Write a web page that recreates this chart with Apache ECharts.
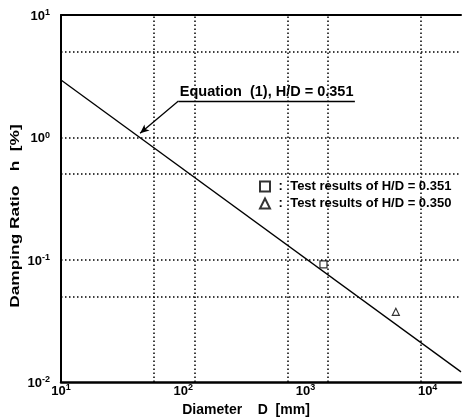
<!DOCTYPE html>
<html>
<head>
<meta charset="utf-8">
<script src="https://cdn.jsdelivr.net/npm/echarts@6.0.0/dist/echarts.min.js"></script>
<style>
  html, body { margin: 0; background: #fff; }
  #chart { width: 462px; height: 420px; }
</style>
</head>
<body>
<div id="chart"></div>
<script>
// equation (1) line, read at both ends of the plot
const lineD = [10, 10000];
const lineH = [2.94, 0.0121];
// test results
const squareD = [930];
const squareH = [0.0916];
const triD = [3245];
const triH = [0.0375];
// dotted grid positions
const gridD = [50, 100, 500, 1000, 5000];
const gridH = [5, 1, 0.5, 0.1, 0.05];
// annotation: underline and leader arrow (data coords)
const noteStart = [76, 1.98];
const noteEnd = [1600, 1.98];
const noteTip = [39.2, 1.08];
const noteText = 'Equation  (1), H/D = 0.351';
const seriesNames = ['Test results of H/D = 0.351', 'Test results of H/D = 0.350'];

const FONT = 'Liberation Sans';

function powLabel(v) {
  const e = Math.round(Math.log10(v));
  return '{b|10}{s|' + e + '}';
}

const powRich = {
  b: { fontSize: 13, lineHeight: 13, fontWeight: 'bold', padding: [3, 0, 0, 0], fontFamily: FONT, color: '#000' },
  s: { fontSize: 9, lineHeight: 9, fontWeight: 'bold', verticalAlign: 'top', fontFamily: FONT, color: '#000' }
};

function zip(a, b) {
  return a.map((v, i) => [v, b[i]]);
}

const chart = echarts.init(document.getElementById('chart'));

const gridMarks = gridD.map(v => ({ xAxis: v })).concat(gridH.map(v => ({ yAxis: v })));

chart.setOption({
  animation: false,
  backgroundColor: '#fff',
  textStyle: { fontFamily: FONT, color: '#000' },
  grid: { left: 61, right: 1, top: 15, bottom: 38, outerBoundsMode: 'none', containLabel: false },
  legend: {
    left: 259,
    top: 180,
    padding: 0,
    orient: 'vertical',
    itemWidth: 10,
    itemHeight: 10,
    itemGap: 4,
    formatter: name => ' :  ' + name,
    textStyle: { fontSize: 13, fontWeight: 'bold', color: '#000', fontFamily: FONT },
    data: seriesNames
  },
  xAxis: [
    {
      type: 'log',
      min: 10,
      max: 10000,
      position: 'bottom',
      axisLine: { lineStyle: { color: '#000', width: 2.5 } },
      axisTick: { show: false },
      axisLabel: { show: false },
      splitLine: { show: false }
    },
    {
      // label axis as printed in the figure
      type: 'log',
      min: 10,
      max: 18750,
      position: 'bottom',
      axisLine: { show: false },
      axisTick: { show: false },
      axisLabel: { margin: 1, showMaxLabel: false, formatter: powLabel, rich: powRich },
      splitLine: { show: false }
    },
    {
      type: 'log',
      min: 10,
      max: 10000,
      position: 'top',
      axisLine: { lineStyle: { color: '#000', width: 2 } },
      axisTick: { show: false },
      axisLabel: { show: false },
      splitLine: { show: false }
    }
  ],
  yAxis: {
    type: 'log',
    min: 0.01,
    max: 10,
    axisLine: { lineStyle: { color: '#000', width: 2 } },
    axisTick: { show: false },
    axisLabel: { margin: 11, formatter: powLabel, rich: powRich },
    splitLine: { show: false }
  },
  graphic: [
    {
      type: 'text',
      x: 15,
      y: 216,
      rotation: Math.PI / 2,
      scaleX: 1.33,
      style: {
        text: 'Damping Ratio   h  [%]',
        font: 'bold 13px "Liberation Sans"',
        fill: '#000',
        align: 'center',
        verticalAlign: 'middle'
      }
    },
    {
      type: 'text',
      x: 246,
      y: 410,
      style: {
        text: 'Diameter    D  [mm]',
        font: 'bold 14px "Liberation Sans"',
        fill: '#000',
        align: 'center',
        verticalAlign: 'middle'
      }
    }
  ],
  series: [
    {
      type: 'line',
      xAxisIndex: 0,
      data: zip(lineD, lineH),
      showSymbol: false,
      lineStyle: { color: '#000', width: 1.3 },
      z: 3,
      markLine: {
        silent: true,
        symbol: ['none', 'none'],
        label: { show: false },
        lineStyle: { color: '#000', width: 1.5, type: [1.5, 2.5] },
        data: gridMarks.concat([
          [
            {
              coord: noteStart,
              lineStyle: { type: 'solid', width: 1.3 },
              label: {
                show: true,
                position: 'insideMiddleTop',
                distance: 2,
                formatter: noteText,
                fontSize: 14.5,
                fontWeight: 'bold',
                color: '#000',
                fontFamily: FONT
              }
            },
            { coord: noteEnd }
          ],
          [
            { coord: noteStart, lineStyle: { type: 'solid', width: 1.3 } },
            { coord: noteTip, symbol: 'arrow', symbolSize: [6, 9] }
          ]
        ])
      }
    },
    {
      name: seriesNames[0],
      type: 'scatter',
      xAxisIndex: 0,
      data: zip(squareD, squareH),
      symbol: 'rect',
      symbolSize: 7,
      itemStyle: { color: '#fff', borderColor: '#000', borderWidth: 1.2 },
      z: 4
    },
    {
      name: seriesNames[1],
      type: 'scatter',
      xAxisIndex: 0,
      data: zip(triD, triH),
      symbol: 'triangle',
      symbolSize: 7,
      itemStyle: { color: '#fff', borderColor: '#000', borderWidth: 1.2 },
      z: 4
    }
  ]
});
</script>
</body>
</html>
